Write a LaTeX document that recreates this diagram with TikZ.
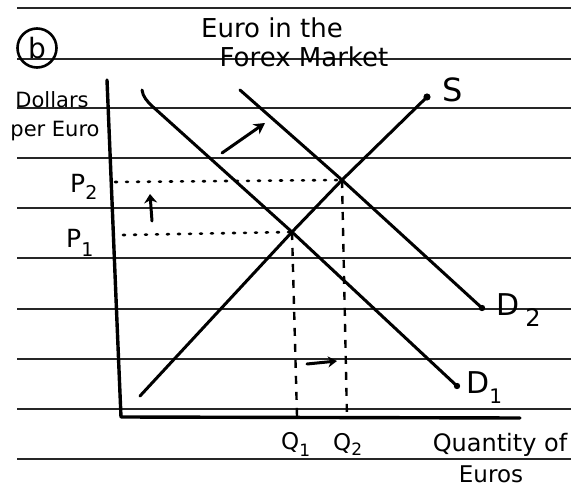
\documentclass[tikz,border=0pt]{standalone}
\usepackage{fontspec}
\setmainfont{DejaVu Sans}
\usetikzlibrary{arrows.meta}
\begin{document}
\begin{tikzpicture}[x=1pt,y=-1pt,
  rule/.style={line width=2pt, black!85},
  curve/.style={line width=3pt, line cap=round, line join=round},
  axis/.style={line width=3.4pt, line cap=round, line join=round},
  dotline/.style={line width=2.6pt, line cap=round, dash pattern=on 2pt off 9pt},
  dashline/.style={line width=2.4pt, dash pattern=on 8pt off 8pt},
  shiftarrow/.style={line width=3pt, line cap=round, -{Stealth[length=11pt,width=12pt]}},
  txt/.style={inner sep=0pt, align=center},
  lbl/.style={inner sep=0pt, font=\fontsize{26}{26}\selectfont},
]
\useasboundingbox (0,0) rectangle (571,487);
\fill[white] (0,0) rectangle (571,487);
% ruled paper lines
\foreach \yy in {8,59,108,158,208,258,309,359,409,459}
  \draw[rule] (17,\yy) -- (571,\yy);

% part label and titles
\node[draw, circle, line width=2.6pt, minimum size=39pt, inner sep=0pt,
      font=\fontsize{28}{28}\selectfont] (part) at (37,48) {b};
\node[txt, font=\fontsize{26}{26}\selectfont] (title1) at (272,28) {Euro in the};
\node[txt, font=\fontsize{26}{26}\selectfont] (title2) at (304,57) {Forex Market};
\node[txt, font=\fontsize{21}{21}\selectfont] (ylab1) at (52,100) {Dollars};
\node[txt, font=\fontsize{21}{21}\selectfont] (ylab2) at (55,131) {per Euro};
\node[txt, font=\fontsize{24}{24}\selectfont] (xlab1) at (500,445) {Quantity of};
\node[txt, font=\fontsize{23}{23}\selectfont] (xlab2) at (491,474) {Euros};

% key points
\coordinate (Ytop) at (107,80);
\coordinate (O) at (121,417);
\coordinate (Xend) at (520,418);
\coordinate (E1) at (292,232);
\coordinate (E2) at (342,180);
\coordinate (S0) at (140,396);
\coordinate (S1) at (427,97);
\coordinate (D1a) at (142,90);
\coordinate (D1b) at (457,386);
\coordinate (D2a) at (240,90);
\coordinate (D2b) at (482,308);
\coordinate (P2start) at (115,182);
\coordinate (P1start) at (123,235);
\coordinate (Q1end) at (297,416);
\coordinate (Q2end) at (347,418);

% axes
\draw[axis] (Ytop) .. controls (112,200) and (116,300) .. (O) -- (Xend);

% curves
\draw[curve] (S0) -- (E1) -- (E2) -- (S1);
\fill (S1) circle (3.6pt);
\draw[curve] (D1a) .. controls (143,97) and (147,101) .. (152,106) -- (E1) -- (D1b);
\fill (D1b) circle (3.2pt);
\draw[curve] (D2a) -- (E2) -- (D2b);
\fill (D2b) circle (3.2pt);

% guide lines
\draw[dotline] (P2start) -- (E2);
\draw[dotline] (P1start) -- (E1);
\draw[dashline] (E1) -- (Q1end);
\draw[dashline] (E2) -- (Q2end);

% shift arrows
\coordinate (dA) at (222,153);
\coordinate (dB) at (265,123);
\draw[shiftarrow] (dA) -- (dB);
\coordinate (uA) at (152,221);
\coordinate (uB) at (150,194);
\draw[shiftarrow, -{Stealth[length=9pt,width=13pt]}] (uA) -- (uB);
\coordinate (rA) at (307,364);
\coordinate (rB) at (337,361);
\draw[shiftarrow, -{Stealth[length=9pt,width=11pt]}] (rA) -- (rB);

% labels
\node[lbl, font=\fontsize{32}{32}\selectfont] (Slab) at (453,90) {S};
\node[lbl, anchor=west, font=\fontsize{30}{30}\selectfont] (D1lab) at (466,388) {D\raisebox{-10pt}{\fontsize{20}{20}\selectfont 1}};
\node[lbl, anchor=west, font=\fontsize{30}{30}\selectfont] (D2lab) at (496,310) {D\hspace{6pt}\raisebox{-11pt}{\fontsize{24}{24}\selectfont 2}};
\node[lbl, anchor=west, font=\fontsize{25}{25}\selectfont] (P2lab) at (70,187) {P\raisebox{-7pt}{\fontsize{19}{19}\selectfont 2}};
\node[lbl, anchor=west, font=\fontsize{25}{25}\selectfont] (P1lab) at (66,243) {P\raisebox{-9pt}{\fontsize{19}{19}\selectfont 1}};
\node[lbl, anchor=west, font=\fontsize{23}{23}\selectfont] (Q1lab) at (281,444) {Q\raisebox{-7pt}{\fontsize{17}{17}\selectfont 1}};
\node[lbl, anchor=west, font=\fontsize{23}{23}\selectfont] (Q2lab) at (333,444) {Q\raisebox{-5pt}{\fontsize{17}{17}\selectfont 2}};
\end{tikzpicture}
\end{document}
